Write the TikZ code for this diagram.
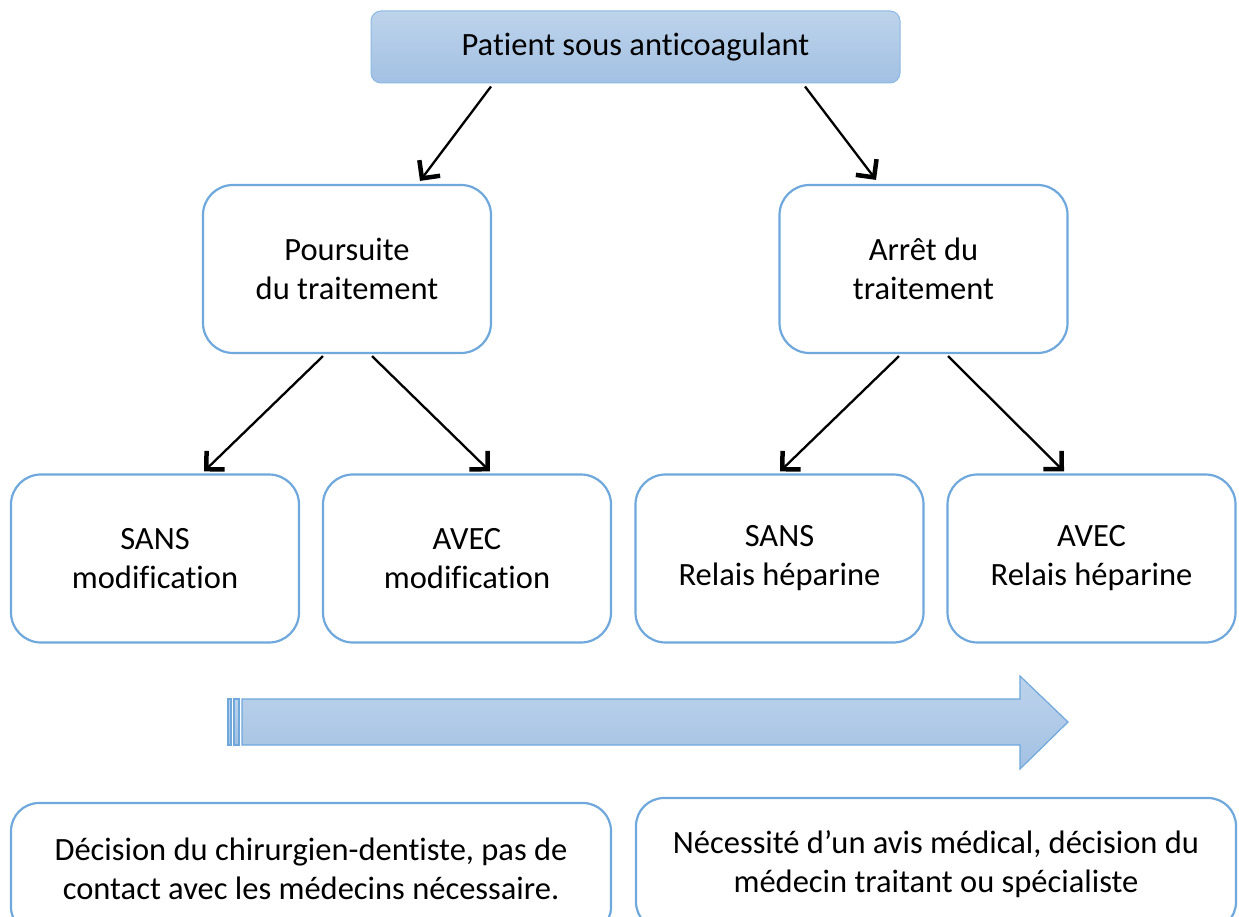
\documentclass[tikz,border=0pt]{standalone}
\usepackage{fontspec}
\setmainfont{Carlito}[Ligatures=NoCommon]
\usetikzlibrary{arrows.meta}
\definecolor{bd}{HTML}{6FA8DC}
\definecolor{gtop}{HTML}{BDD3EB}
\definecolor{gbot}{HTML}{A3C1E3}
\begin{document}
\begin{tikzpicture}[x=1pt,y=-1pt,
  txt/.style={align=center, font=\fontsize{32.5}{39}\selectfont, inner sep=0pt},
  box/.style={txt, draw=bd, line width=2.2pt, rounded corners=30pt, fill=white, minimum width=288pt, minimum height=168pt},
  topbox/.style={txt, draw=bd!80, line width=1pt, rounded corners=10pt, top color=gtop, bottom color=gbot, minimum width=529pt, minimum height=72pt},
  notebox/.style={txt, draw=bd, line width=2.2pt, rounded corners=28pt, fill=white, minimum width=600pt, minimum height=132pt},
  arr/.style={line width=2.3pt, -{Straight Barb[length=13pt,width=26pt,line width=4.5pt]}},
  bigarrow/.style={top color=gtop, bottom color=gbot, draw=bd, line width=1.2pt}]
\useasboundingbox (0,0) rectangle (1239,917);
\node[topbox] (top) at (635.5,47) {Patient sous anticoagulant};
\node[box] (pl) at (347,269) {Poursuite\\du traitement};
\node[box] (pr) at (923.5,269) {Arrêt du\\traitement};
\node[box] (b1) at (155,558.5) {SANS\\modification};
\node[box] (b2) at (467,558.5) {AVEC\\modification};
\node[box] (b3) at (779.5,558.5) {SANS\\Relais héparine};
\node[box] (b4) at (1091.5,558.5) {AVEC\\Relais héparine};
\node[notebox] (n1) at (311,869) {Décision du chirurgien-dentiste, pas de\\contact avec les médecins nécessaire.};
\node[notebox] (n2) at (936,864) {Nécessité d’un avis médical, décision du\\médecin traitant ou spécialiste};
\draw[arr] ([shift={(-144.5,3)}]top.south) -- ([shift={(73,-3)}]pl.north);
\draw[arr] ([shift={(169.5,3)}]top.south) -- ([shift={(-47.5,-4)}]pr.north);
\draw[arr] ([shift={(-24,2)}]pl.south) -- ([shift={(49,-2)}]b1.north);
\draw[arr] ([shift={(25,2)}]pl.south) -- ([shift={(23,-2)}]b2.north);
\draw[arr] ([shift={(-24.5,2)}]pr.south) -- ([shift={(0.5,-2)}]b3.north);
\draw[arr] ([shift={(24.5,2)}]pr.south) -- ([shift={(-27.5,-2)}]b4.north);
\path[bigarrow] (242,699) -- (1020,699) -- (1020,676) -- (1068,722) -- (1020,769) -- (1020,745) -- (242,745) -- cycle;
\path[bigarrow] (228,699) rectangle (231,745);
\path[bigarrow] (234,699) rectangle (239,745);
\end{tikzpicture}
\end{document}
